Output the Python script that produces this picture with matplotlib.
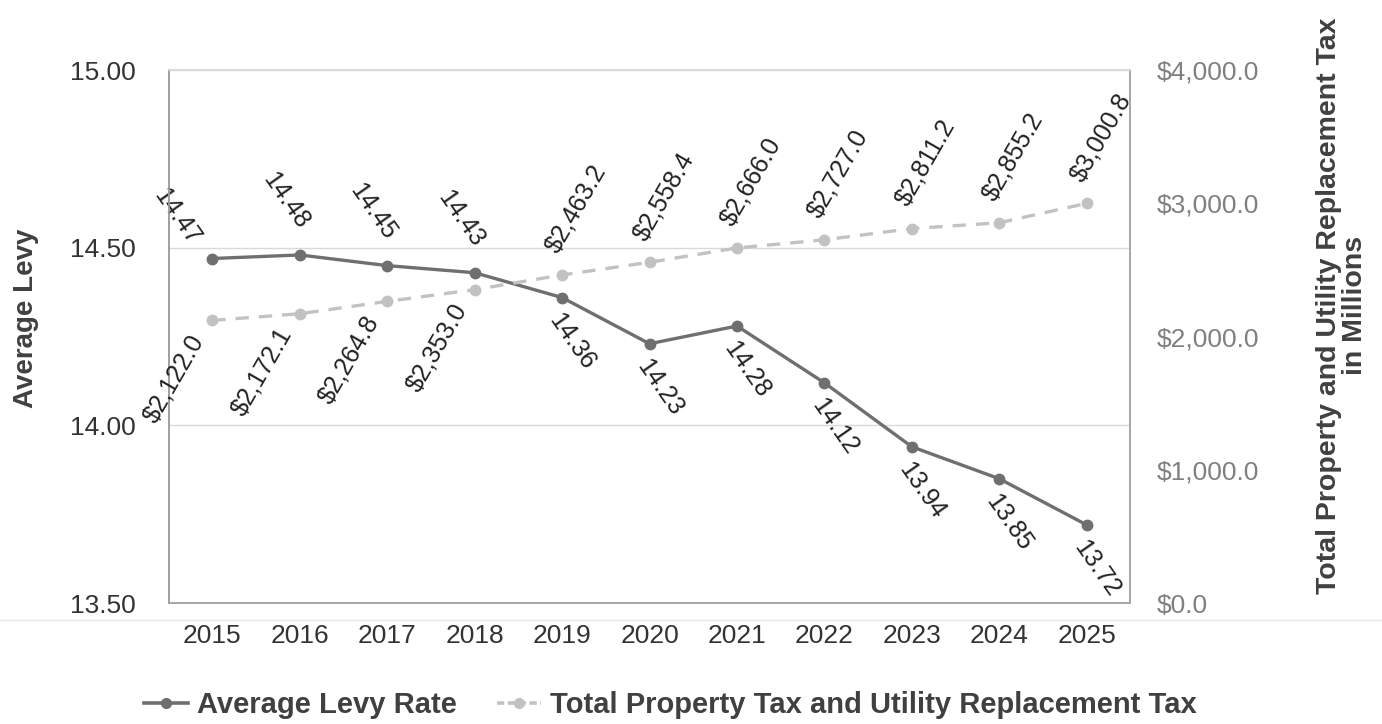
import matplotlib.pyplot as plt
from matplotlib.lines import Line2D
from matplotlib.ticker import FuncFormatter, MultipleLocator

plt.rcParams['font.family'] = ['Liberation Sans', 'DejaVu Sans']

years = ['2015', '2016', '2017', '2018', '2019', '2020', '2021', '2022', '2023', '2024', '2025']
levy_rate = [14.47, 14.48, 14.45, 14.43, 14.36, 14.23, 14.28, 14.12, 13.94, 13.85, 13.72]
total_tax = [2122.0, 2172.1, 2264.8, 2353.0, 2463.2, 2558.4, 2666.0, 2727.0, 2811.2, 2855.2, 3000.8]

dark = '#404040'
levy_col = '#6f6f6f'
tax_col = '#c2c2c2'

fig = plt.figure(figsize=(13.82, 7.24), dpi=100)
ax = fig.add_axes([0.122, 0.167, 0.696, 0.736])
ax2 = ax.twinx()

x = list(range(len(years)))

# levy rate (left axis)
ax.plot(x, levy_rate, color=levy_col, lw=2.4, marker='o', ms=7.5, zorder=3)
ax.set_ylim(13.5, 15.0)
ax.set_xlim(-0.5, len(years) - 0.5)
ax.yaxis.set_major_locator(MultipleLocator(0.5))
ax.yaxis.set_major_formatter(FuncFormatter(lambda v, p: f'{v:.2f}'))
ax.grid(axis='y', color='#d9d9d9', lw=1)
ax.set_axisbelow(True)
ax.set_xticks(x)
ax.set_xticklabels(years)
ax.tick_params(axis='both', length=0, labelsize=19, colors='#333333')
ax.tick_params(axis='y', pad=24)
ax.tick_params(axis='x', pad=15)

# total tax (right axis)
ax2.plot(x, total_tax, color=tax_col, lw=2.4, ls=(0, (4, 3)), marker='o', ms=7.5, zorder=3)
ax2.set_ylim(0, 4000)
ax2.yaxis.set_major_locator(MultipleLocator(1000))
ax2.yaxis.set_major_formatter(FuncFormatter(lambda v, p: f'${v:,.1f}'))
ax2.tick_params(axis='y', length=0, labelsize=19, colors='#808080', pad=19)

for a in (ax, ax2):
    for s in a.spines.values():
        s.set_color('#a6a6a6')
        s.set_linewidth(1.2)
    a.spines['top'].set_color('#d9d9d9')
ax.spines['left'].set_color('#7f7f7f')

# value labels
for i, v in enumerate(levy_rate):
    if i < 4:
        off = (-14, 54)
    else:
        off = (10, -44)
    if i == 0:
        off = (-36, 42)
    ax.annotate(f'{v:.2f}', (i, v), xytext=off, textcoords='offset pixels',
                rotation=-55, ha='center', va='center', fontsize=18, color='#222222')

for i, v in enumerate(total_tax):
    if i < 4:
        off = (-38, -58)
    else:
        off = (14, 66)
    ax2.annotate(f'${v:,.1f}', (i, v), xytext=off, textcoords='offset pixels',
                 rotation=60, ha='center', va='center', fontsize=18, color='#222222')

# axis titles
fig.text(0.019, 0.561, 'Average Levy', rotation=90, ha='center', va='center',
         fontsize=20, fontweight='bold', color=dark)
fig.text(0.971, 0.578, 'Total Property and Utility Replacement Tax\nin Millions',
         rotation=90, ha='center', va='center', fontsize=20.5, fontweight='bold',
         color=dark, linespacing=1.0)

# faint rule under the plot
fig.add_artist(Line2D([0, 1], [1 - 620 / 724, 1 - 620 / 724], transform=fig.transFigure,
                      color='#e6e6e6', lw=1))

handles = [
    Line2D([], [], color=levy_col, lw=2.6, marker='o', ms=7),
    Line2D([], [], color=tax_col, lw=2.6, ls=(0, (2, 1)), marker='o', ms=7),
]
fig.legend(handles, ['Average Levy Rate', 'Total Property Tax and Utility Replacement Tax'],
           loc='center', bbox_to_anchor=(0.485, 0.026), ncol=2, frameon=False,
           handlelength=1.5, handletextpad=0.3, columnspacing=1.4,
           prop={'size': 21, 'weight': 'bold'}, labelcolor=dark)

fig.savefig('out.png', dpi=100)
